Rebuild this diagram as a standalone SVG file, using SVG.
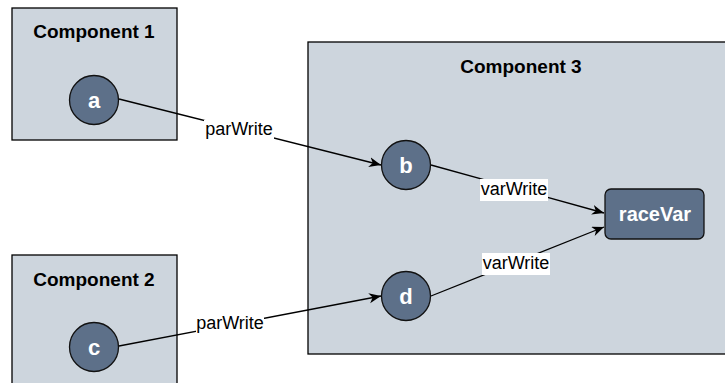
<svg xmlns="http://www.w3.org/2000/svg" width="725" height="383" viewBox="0 0 725 383">
<style>
.comp{fill:#cdd5dd;stroke:#000;stroke-width:1.3}
.node{fill:#5d7089;stroke:#111;stroke-width:1.3}
.title{font-family:"Liberation Sans",Arial,sans-serif;font-weight:bold;font-size:19px;fill:#000;text-anchor:middle}
.nl{font-family:"Liberation Sans",Arial,sans-serif;font-weight:bold;font-size:22px;fill:#fff;text-anchor:middle}
.el{font-family:"Liberation Sans",Arial,sans-serif;font-size:18px;fill:#000;text-anchor:middle}
.edge{fill:none;stroke:#000;stroke-width:1.3}
.lbg{fill:#fff}
</style>
<defs>
<marker id="arr" markerUnits="userSpaceOnUse" markerWidth="14" markerHeight="12" refX="12" refY="5" orient="auto">
<path d="M0,0 L12,5 L0,10 L3.5,5 Z" fill="#000"/>
</marker>
</defs>
<g id="component1">
<rect class="comp" x="12" y="8" width="165" height="132"/>
<text class="title" x="94" y="38">Component 1</text>
</g>
<g id="component2">
<rect class="comp" x="12" y="255" width="165" height="140"/>
<text class="title" x="94" y="286">Component 2</text>
</g>
<g id="component3">
<rect class="comp" x="308" y="42" width="430" height="312"/>
<text class="title" x="521" y="73">Component 3</text>
</g>
<g id="connectors">
<path class="edge" d="M119,99 L381,165" marker-end="url(#arr)"/>
<path class="edge" d="M119,346 L381,296" marker-end="url(#arr)"/>
<path class="edge" d="M431,165 L604,213" marker-end="url(#arr)"/>
<path class="edge" d="M431,296 L604,227" marker-end="url(#arr)"/>
<rect class="lbg" x="204" y="120" width="70" height="20"/>
<text class="el" x="239" y="135">parWrite</text>
<rect class="lbg" x="196" y="314" width="68" height="20"/>
<text class="el" x="230" y="329">parWrite</text>
<rect class="lbg" x="480" y="179" width="68" height="22"/>
<text class="el" x="514" y="195">varWrite</text>
<rect class="lbg" x="482" y="253" width="68" height="22"/>
<text class="el" x="516" y="269">varWrite</text>
</g>
<g id="node-a">
<circle class="node" cx="94" cy="100" r="24.5"/>
<text class="nl" x="94" y="108">a</text>
</g>
<g id="node-c">
<circle class="node" cx="94" cy="347" r="24.5"/>
<text class="nl" x="94" y="355">c</text>
</g>
<g id="node-b">
<circle class="node" cx="406" cy="165" r="24.5"/>
<text class="nl" x="406" y="173">b</text>
</g>
<g id="node-d">
<circle class="node" cx="406" cy="296" r="24.5"/>
<text class="nl" x="406" y="304">d</text>
</g>
<g id="node-raceVar">
<rect class="node" x="605" y="189" width="99" height="50" rx="6"/>
<text class="nl" x="655" y="221" style="font-size:20px">raceVar</text>
</g>
</svg>
